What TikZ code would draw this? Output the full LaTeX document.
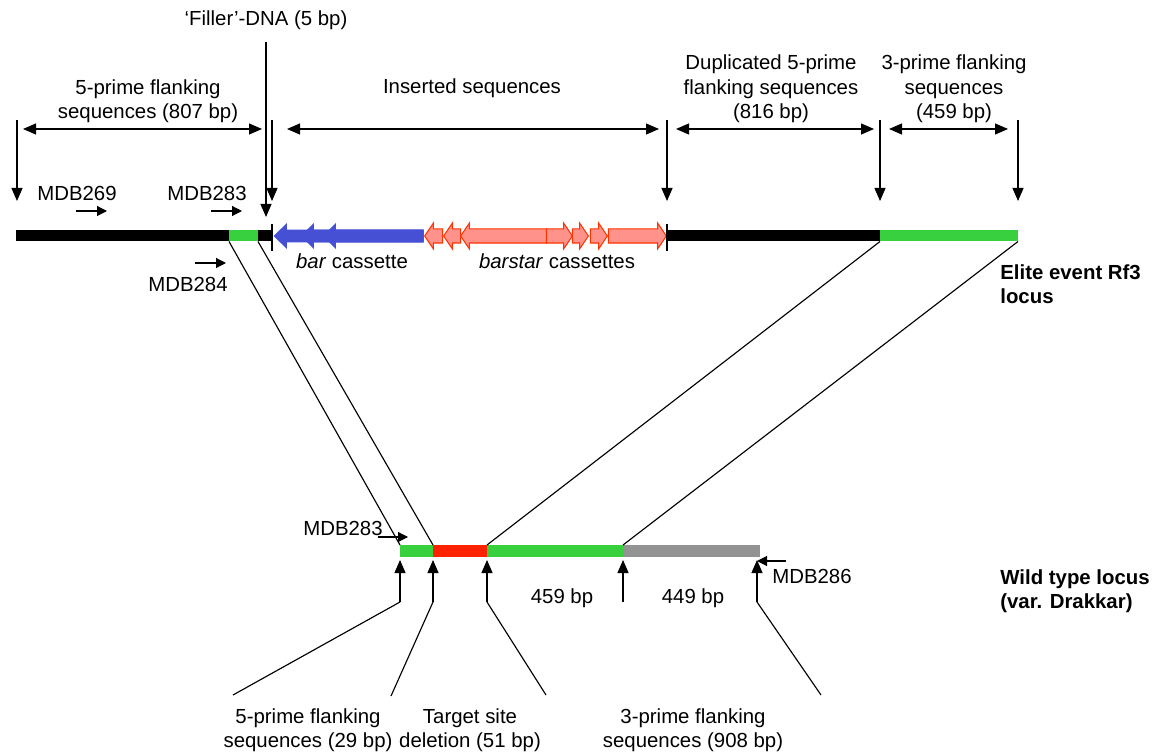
\documentclass[tikz,border=0pt]{standalone}
\usepackage{fontspec}
\setmainfont{Liberation Sans}
\usepackage{xcolor}
\usepackage{tikz}
\usetikzlibrary{arrows.meta,shapes.arrows}

\definecolor{elitegreen}{RGB}{57,208,64}
\definecolor{barblue}{RGB}{70,80,212}
\definecolor{starfill}{RGB}{255,146,138}
\definecolor{starline}{RGB}{255,51,0}
\definecolor{delred}{RGB}{255,34,0}
\definecolor{flankgray}{RGB}{147,147,147}

\begin{document}
\begin{tikzpicture}[x=0.2mm, y=-0.2mm,
		txt/.style={font=\fontsize{11.6}{13.9}\selectfont, align=center, inner sep=0pt},
		locus/.style={txt, font=\fontsize{11.6}{13.9}\selectfont\bfseries, align=left, anchor=west},
		band/.style={line width=2.2mm},
		wtband/.style={line width=2.4mm},
		tick/.style={line width=1.1pt},
		pointer/.style={-{Triangle[length=2.6mm,width=2.2mm]}, line width=0.65pt},
		span/.style={{Triangle[length=2.6mm,width=2.2mm]}-{Triangle[length=2.6mm,width=2.2mm]}, line width=0.65pt},
		primer/.style={-{Triangle[length=2mm,width=2mm]}, line width=0.65pt},
		link/.style={line width=0.65pt},
		barhead/.style={single arrow, fill=barblue, inner xsep=0pt, inner ysep=1.2mm, minimum width=5mm, single arrow head extend=1.3mm, single arrow tip angle=88, shape border rotate=180, anchor=tip},
		starhead/.style={single arrow, draw=starline, fill=starfill, line width=0.6pt, inner xsep=0pt, inner ysep=1.3mm, minimum width=5mm, single arrow head extend=1.2mm, single arrow tip angle=112, anchor=tip},
		starleft/.style={starhead, shape border rotate=180}
	]
		\useasboundingbox (0,0) rectangle (1155,752);

		% Elite event locus
		\coordinate (e0) at (16,236);
		\coordinate (e1) at (229,236);
		\coordinate (e2) at (258,236);
		\coordinate (e3) at (272,236);
		\coordinate (e4) at (667,236);
		\coordinate (e5) at (880,236);
		\coordinate (e6) at (1018,236);

		\node[barhead, minimum height=30mm] (bar1) at (273,236) {};
		\node[barhead, minimum height=24.6mm] (bar2) at (300,236) {};
		\node[barhead, minimum height=20.2mm] (bar3) at (322,236) {};

		\node[starleft, minimum height=3.6mm] (star1) at (424,236) {};
		\node[starleft, minimum height=3.4mm] (star2) at (443,236) {};
		\node[starleft, minimum height=17.2mm] (star3) at (460,236) {};
		\node[starhead, minimum height=5.2mm] (star4) at (573,236) {};
		\node[starhead, minimum height=3.2mm] (star5) at (589,236) {};
		\node[starhead, minimum height=3.4mm] (star6) at (608,236) {};
		\node[starhead, minimum height=11.6mm] (star7) at (667,236) {};

		\draw[band, black] (e0) -- (e3);
		\draw[band, elitegreen] (e1) -- (e2);
		\draw[band, black] (e4) -- (e5);
		\draw[band, elitegreen] (e5) -- (e6);
		\draw[tick] ([yshift=2.4mm]e3) -- ([yshift=-3mm]e3);
		\draw[tick] ([yshift=2.4mm]e4) -- ([yshift=-3mm]e4);

		\node[txt] (barlbl) at (352,261) {\textit{bar} cassette};
		\node[txt] (starlbl) at (557,261) {\textit{barstar} cassettes};
		\node[locus] (elite) at (1000,284) {Elite event Rf3\\locus};

		% Segment labels
		\node[txt] (filler) at (266,20) {‘Filler’-DNA (5 bp)};
		\node[txt] (flank5) at (148,101) {5-prime flanking\\sequences (807 bp)};
		\node[txt] (insert) at (472,88) {Inserted sequences};
		\node[txt] (dup5) at (771,89) {Duplicated 5-prime\\flanking sequences\\(816 bp)};
		\node[txt] (flank3) at (954,89) {3-prime flanking\\sequences\\(459 bp)};

		% Boundary arrows
		\coordinate (v0) at (17,120);
		\coordinate (v0tip) at (17,201);
		\coordinate (v1) at (272,120);
		\coordinate (v1tip) at (272,201);
		\coordinate (v2) at (667,120);
		\coordinate (v2tip) at (667,201);
		\coordinate (v3) at (880,120);
		\coordinate (v3tip) at (880,201);
		\coordinate (v4) at (1018,120);
		\coordinate (v4tip) at (1018,201);
		\coordinate (vf) at (266,42);
		\coordinate (vftip) at (266,217);
		\draw[pointer] (v0) -- (v0tip);
		\draw[pointer] (v1) -- (v1tip);
		\draw[pointer] (v2) -- (v2tip);
		\draw[pointer] (v3) -- (v3tip);
		\draw[pointer] (v4) -- (v4tip);
		\draw[pointer] (vf) -- (vftip);

		% Spans
		\coordinate (s0a) at (23,129);
		\coordinate (s0b) at (262,129);
		\coordinate (s1a) at (287,129);
		\coordinate (s1b) at (659,129);
		\coordinate (s2a) at (676,129);
		\coordinate (s2b) at (874,129);
		\coordinate (s3a) at (889,129);
		\coordinate (s3b) at (1008,129);
		\draw[span] (s0a) -- (s0b);
		\draw[span] (s1a) -- (s1b);
		\draw[span] (s2a) -- (s2b);
		\draw[span] (s3a) -- (s3b);

		% Primers
		\node[txt] (mdb269) at (77,193) {MDB269};
		\node[txt] (mdb283) at (207,193) {MDB283};
		\node[txt] (mdb284) at (188,284) {MDB284};
		\node[txt] (mdb283w) at (343,528) {MDB283};
		\node[txt] (mdb286) at (812,576) {MDB286};
		\coordinate (p269a) at (76,211);
		\coordinate (p269b) at (107,211);
		\coordinate (p283a) at (211,211);
		\coordinate (p283b) at (242,211);
		\coordinate (p284a) at (195,263);
		\coordinate (p284b) at (226,263);
		\coordinate (p283wa) at (378,537);
		\coordinate (p283wb) at (408,537);
		\coordinate (p286a) at (786,561);
		\coordinate (p286b) at (757,561);
		\draw[primer] (p269a) -- (p269b);
		\draw[primer] (p283a) -- (p283b);
		\draw[primer] (p284a) -- (p284b);
		\draw[primer] (p283wa) -- (p283wb);
		\draw[primer] (p286a) -- (p286b);

		% Wild type locus
		\coordinate (w0) at (400,551);
		\coordinate (w1) at (433,551);
		\coordinate (w2) at (487,551);
		\coordinate (w3) at (623,551);
		\coordinate (w4) at (760,551);
		\draw[wtband, elitegreen] (w0) -- (w1);
		\draw[wtband, delred] (w1) -- (w2);
		\draw[wtband, elitegreen] (w2) -- (w3);
		\draw[wtband, flankgray] (w3) -- (w4);
		\node[locus] (wild) at (1000,591) {Wild type locus\\(var. Drakkar)};

		% Links between loci
		\draw[link] ([yshift=-1.1mm]e1) -- ([yshift=1.2mm]w0);
		\draw[link] ([yshift=-1.1mm]e2) -- ([yshift=1.2mm]w1);
		\draw[link] ([yshift=-1.1mm]e5) -- ([yshift=1.2mm]w2);
		\draw[link] ([yshift=-1.1mm]e6) -- ([yshift=1.2mm]w3);

		% Wild type boundaries
		\coordinate (u0) at (400,602);
		\coordinate (u1) at (433,602);
		\coordinate (u2) at (487,602);
		\coordinate (u3) at (623,602);
		\coordinate (u4) at (757,602);
		\coordinate (u4tip) at (757,560);
		\draw[pointer] (u0) -- ([yshift=-1.8mm]w0);
		\draw[pointer] (u1) -- ([yshift=-1.8mm]w1);
		\draw[pointer] (u2) -- ([yshift=-1.8mm]w2);
		\draw[pointer] (u3) -- ([yshift=-1.8mm]w3);
		\draw[pointer] (u4) -- (u4tip);

		\coordinate (q0) at (233,695);
		\coordinate (q1) at (391,696);
		\coordinate (q2) at (546,695);
		\coordinate (q4) at (821,695);
		\draw[link] (u0) -- (q0);
		\draw[link] (u1) -- (q1);
		\draw[link] (u2) -- (q2);
		\draw[link] (u4) -- (q4);

		% Labels
		\node[txt] (len459) at (562,598) {459 bp};
		\node[txt] (len449) at (693,598) {449 bp};
		\node[txt] (flank5w) at (308,730) {5-prime flanking\\sequences (29 bp)};
		\node[txt] (target) at (470,730) {Target site\\deletion (51 bp)};
		\node[txt] (flank3w) at (693,730) {3-prime flanking\\sequences (908 bp)};
	\end{tikzpicture}
\end{document}
